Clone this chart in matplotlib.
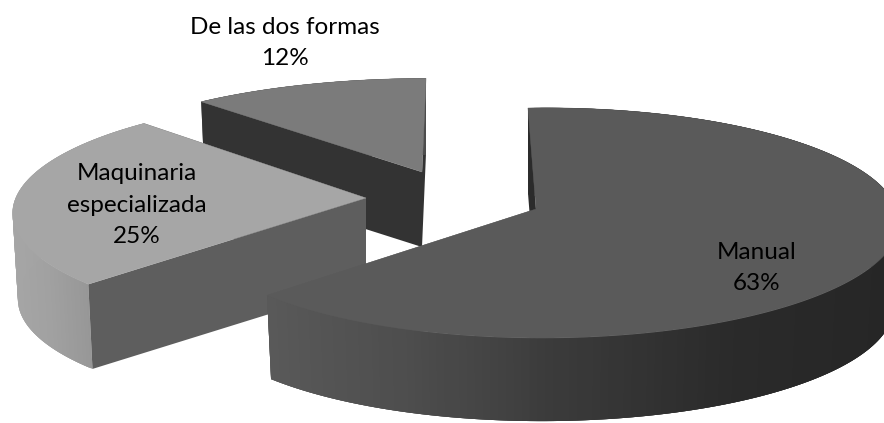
import matplotlib
matplotlib.use("Agg")
import matplotlib.pyplot as plt
import numpy as np
from matplotlib.patches import Polygon

"""DATA"""
labels = ["Manual", "Maquinaria\nespecializada", "De las dos formas"]
values = [63, 25, 12]

"""STYLE"""
# Projection of every slice, in pixels of the picture
centers = [(536, 209), (366, 198), (422, 172)]
xRadius = [352, 351, 356]
xShear = [-9, -2, 4.5]
yRadius = [113.3, 113.3, 105]
yTilt = [-4, -2, 0]
leanX = [-0.02, 0, 0]
leanY = 0.122
depths = [85, 86, 75]
bottomScale = 0.985

topColors = ["#5a5a5a", "#a6a6a6", "#7b7b7b"]
radialStartColors = ["#2b2b2b", "#5e5e5e", "#333333"]
radialEndColors = ["#5c5c5c", "#333333", "#333333"]
# Gray of the outer wall: (x in pixels, gray level 0-1)
wallStops = [
    ([270, 420, 560, 740, 884], [0.35, 0.30, 0.23, 0.165, 0.15]),
    ([12, 50, 92], [0.65, 0.63, 0.59]),
    ([200, 426], [0.3, 0.3]),
]
labelPositions = [(757, 268), (137, 205), (285, 43)]


"""SUPPORT FUNCTIONS"""
def rimPoint(i, theta, scale=1.0):
    # Angle is clockwise from 12 o'clock, the pie is seen in perspective
    X = np.sin(theta)
    Y = np.cos(theta)
    w = 1 + leanX[i] * X + leanY * Y
    x = (xRadius[i] * X + xShear[i] * Y) / w
    y = (yTilt[i] * X - yRadius[i] * Y) / w
    return centers[i][0] + scale * x, centers[i][1] + scale * y


def lowerPoint(i, theta):
    x, y = rimPoint(i, theta, bottomScale)
    return x, y + depths[i]


def drawRadial(ax, i, theta, color, z):
    # Flat wall between the center of the slice and its rim
    cx, cy = centers[i]
    points = [rimPoint(i, theta), (cx, cy), (cx, cy + depths[i]), lowerPoint(i, theta)]
    ax.add_patch(Polygon(points, closed=True, facecolor=color, edgecolor="none", zorder=z))


def drawWall(ax, i, start, stop, z):
    # Outer wall is cut in overlapping strips to get the gradient without seams
    steps = np.linspace(start, stop, 200)
    for k in range(len(steps) - 1):
        strip = steps[k:k + 4]
        x, _ = rimPoint(i, strip[0])
        gray = np.interp(x, wallStops[i][0], wallStops[i][1])
        points = [rimPoint(i, t) for t in strip] + [lowerPoint(i, t) for t in strip[::-1]]
        ax.add_patch(Polygon(points, closed=True, facecolor=(gray, gray, gray), edgecolor="none", zorder=z))


def drawTop(ax, i, start, stop, z):
    steps = np.linspace(start, stop, 300)
    points = [centers[i]] + [rimPoint(i, t) for t in steps]
    ax.add_patch(Polygon(points, closed=True, facecolor=topColors[i], edgecolor=topColors[i], lw=0.3, zorder=z))


"""MAIN FUNCTION"""
def main():
    plt.rcParams["font.family"] = ["Lato", "DejaVu Sans"]
    fig = plt.figure(figsize=(8.84, 4.23), dpi=100)
    ax = fig.add_axes([0, 0, 1, 1])
    ax.set_xlim(0, 884)
    ax.set_ylim(423, 0)
    ax.axis("off")

    total = sum(values)
    edges = 2 * np.pi * np.concatenate(([0], np.cumsum(values))) / total

    # Back slices first, the manual slice covers the other two
    for i in [2, 1, 0]:
        z = (2 - i) * 10 + 1
        drawRadial(ax, i, edges[i + 1], radialEndColors[i], z)
        drawWall(ax, i, edges[i], edges[i + 1], z + 1)
        drawRadial(ax, i, edges[i], radialStartColors[i], z + 2)
        drawTop(ax, i, edges[i], edges[i + 1], z + 3)

    for label, value, pos in zip(labels, values, labelPositions):
        ax.text(pos[0], pos[1], "{}\n{}%".format(label, value), ha="center", va="center",
                fontsize=17.5, color="black", linespacing=1.64, zorder=50)

    fig.savefig("out.png", dpi=100)


if __name__ == "__main__":
    main()
